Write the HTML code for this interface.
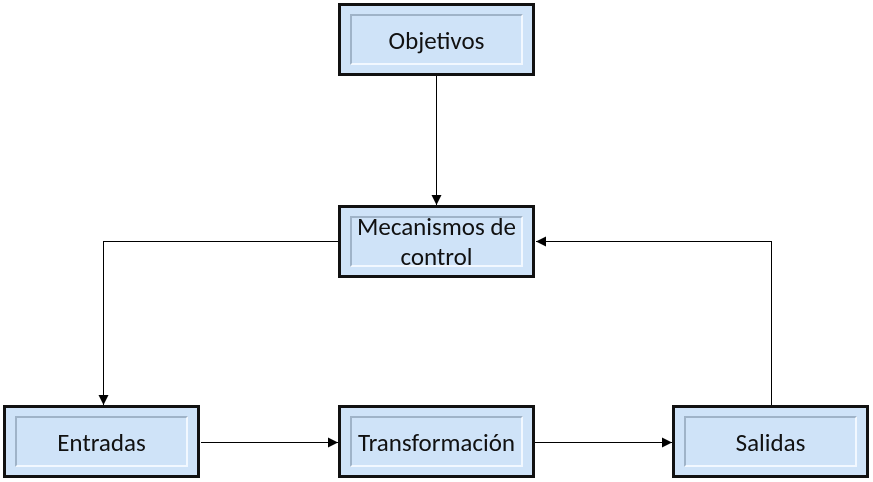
<!DOCTYPE html>
<html><head><style>
body{margin:0;width:873px;height:482px;background:#fff;position:relative;overflow:hidden;font-family:Calibri,"Liberation Sans",sans-serif}
.b{position:absolute;width:191px;height:67px;border:3px solid #111;background:#cfe3f8;box-sizing:content-box}
.b .i{position:absolute;left:9px;top:8px;right:9px;bottom:8px;border:2px solid;border-color:#9fb3c8 #f2f8ff #f2f8ff #9fb3c8;display:flex;align-items:center;justify-content:center;text-align:center;font-size:25px;color:#111;line-height:30px;padding-top:3px;box-sizing:border-box;white-space:nowrap}
svg{position:absolute;left:0;top:0}
</style></head><body>
<svg width="873" height="482">
<defs><marker id="a" markerWidth="10" markerHeight="10" refX="10" refY="5" orient="auto" markerUnits="userSpaceOnUse"><path d="M0,0L10,5L0,10z" fill="#000"/></marker></defs>
<g stroke="#000" stroke-width="1" fill="none">
<line x1="436.5" y1="76" x2="436.5" y2="205" marker-end="url(#a)"/>
<polyline points="338,241.5 103.5,241.5 103.5,405" marker-end="url(#a)"/>
<polyline points="771.5,405 771.5,241.5 536,241.5" marker-end="url(#a)"/>
<line x1="201" y1="442.5" x2="338" y2="442.5" marker-end="url(#a)"/>
<line x1="535" y1="442.5" x2="672" y2="442.5" marker-end="url(#a)"/>
</g></svg>
<div class="b" style="left:338px;top:3px"><div class="i">Objetivos</div></div>
<div class="b" style="left:338px;top:205px"><div class="i" style="padding-top:0">Mecanismos de<br>control</div></div>
<div class="b" style="left:3px;top:405px"><div class="i">Entradas</div></div>
<div class="b" style="left:338px;top:405px"><div class="i">Transformación</div></div>
<div class="b" style="left:672px;top:405px"><div class="i">Salidas</div></div>
</body></html>
